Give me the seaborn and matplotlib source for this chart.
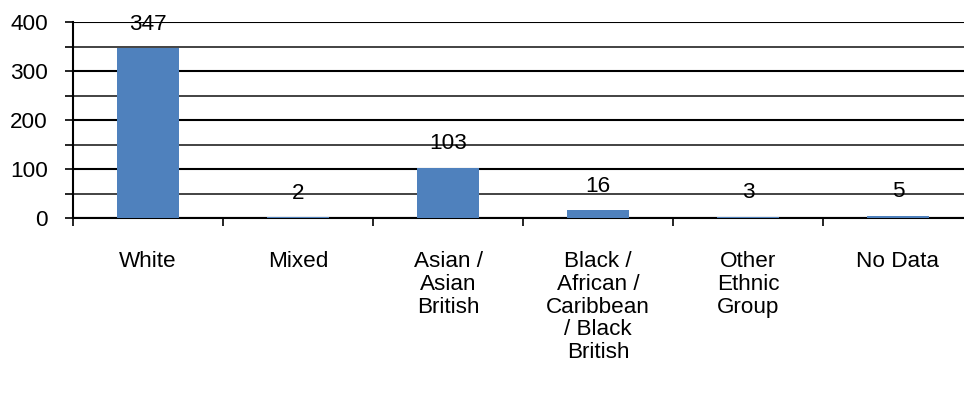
import matplotlib
matplotlib.use("Agg")
import matplotlib.pyplot as plt
import seaborn as sns
import pandas as pd
from matplotlib.ticker import MultipleLocator

# data
categories = ["White", "Mixed", "Asian /\nAsian\nBritish",
              "Black /\nAfrican /\nCaribbean\n/ Black\nBritish",
              "Other\nEthnic\nGroup", "No Data"]
counts = [347, 2, 103, 16, 3, 5]

df = pd.DataFrame({"group": categories, "count": counts})

sns.set_style("white")
plt.rcParams["font.family"] = ["Liberation Sans", "DejaVu Sans"]
plt.rcParams["font.size"] = 16.2
plt.rcParams["text.color"] = "black"
plt.rcParams["xtick.color"] = "black"
plt.rcParams["ytick.color"] = "black"

fig = plt.figure(figsize=(9.64, 4.03), dpi=100)
ax = fig.add_axes([73 / 964, 1 - 218 / 403, 900 / 964, 196 / 403])

sns.barplot(data=df, x="group", y="count", color="#4F81BD", width=0.41,
            saturation=1, linewidth=0, edgecolor="none", ax=ax, zorder=3)

for i, v in enumerate(counts):
    ax.annotate(str(v), (i, v), xytext=(0, 13), textcoords="offset points",
                ha="center", va="baseline", color="black", zorder=4)

ax.set_xlim(-0.5, 5.5)
ax.set_ylim(0, 400)
ax.yaxis.set_major_locator(MultipleLocator(100))
ax.yaxis.set_minor_locator(MultipleLocator(50))
ax.grid(True, axis="y", which="major", color="black", linewidth=1.5, zorder=0)
ax.grid(True, axis="y", which="minor", color="#222222", linewidth=1.2, zorder=0)
ax.set_axisbelow(True)

ax.tick_params(axis="y", which="both", direction="out", length=6, width=1.2,
               color="black", labelcolor="black", pad=12, left=True)
ax.tick_params(axis="x", which="major", length=0, pad=24, labelcolor="black")
ax.set_xticks([x + 0.5 for x in range(-1, 6)], minor=True)
ax.tick_params(axis="x", which="minor", direction="out", length=6, width=1.2,
               color="black", bottom=True)
for lab in ax.get_xticklabels():
    lab.set_linespacing(1.1)

ax.set_xlabel("")
ax.set_ylabel("")
for side in ["top", "right"]:
    ax.spines[side].set_visible(False)
for side in ["left", "bottom"]:
    ax.spines[side].set_color("black")
    ax.spines[side].set_linewidth(1.5)

fig.savefig("out.png", dpi=100)
